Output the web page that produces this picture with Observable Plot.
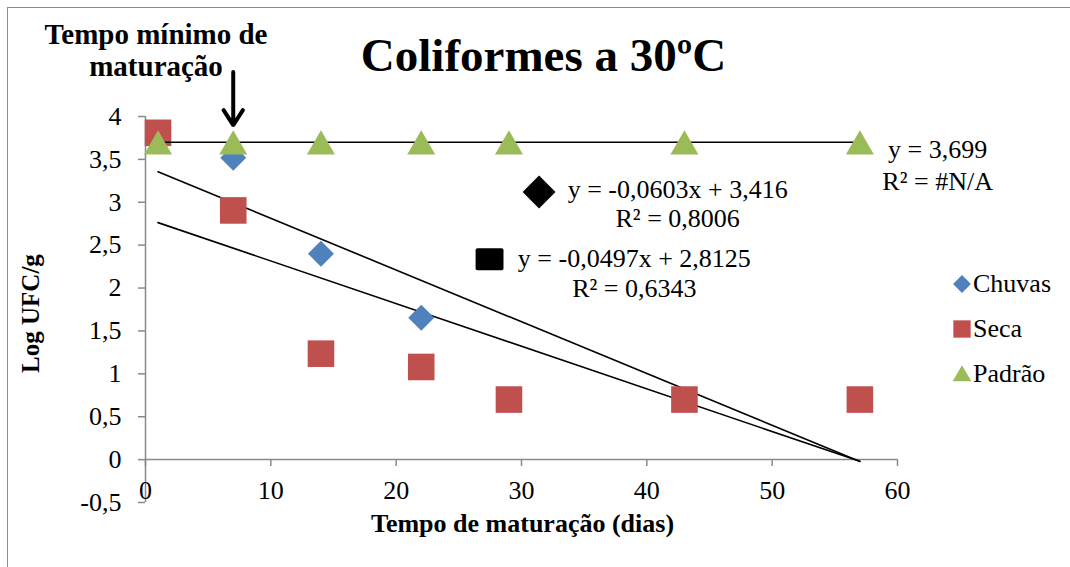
<!DOCTYPE html>
<html><head><meta charset="utf-8">
<script src="https://cdn.jsdelivr.net/npm/d3@7"></script>
<script src="https://cdn.jsdelivr.net/npm/@observablehq/plot@0.6"></script>
<style>
html,body{margin:0;padding:0;background:#fff;}
#wrap{position:relative;width:1070px;height:567px;overflow:hidden;font-family:"Liberation Serif","Times New Roman",serif;}
#frame{position:absolute;left:7px;top:7px;width:1100px;height:600px;border-left:1.5px solid #8c8c8c;border-top:1.5px solid #8c8c8c;}
#chart{position:absolute;left:0;top:0;}
#legend{position:absolute;left:952px;top:261px;font-size:26px;color:#000;}
.row{display:flex;align-items:center;height:45px;}
.row svg{width:20px;height:20px;margin-right:1px;overflow:visible}
</style></head><body><div id="wrap"><div id="frame"></div><div id="chart"></div><div id="legend"></div></div>
<script>
// ---- data ----
const days = [1, 7, 14, 22, 29, 43, 57];
const chuvas = [3.8, 3.52, 2.4, 1.655, 0.7, 0.7, 0.7];
const seca = [3.81, 2.905, 1.235, 1.08, 0.7, 0.7, 0.7];
const padrao = [3.699, 3.699, 3.699, 3.699, 3.699, 3.699, 3.699];
const seriesNames = ["Chuvas", "Seca", "Padrão"];
const seriesColors = ["#4F81BD", "#C0504D", "#9BBB59"];
const xTicks = [0, 10, 20, 30, 40, 50, 60];
const yTicks = [-0.5, 0, 0.5, 1, 1.5, 2, 2.5, 3, 3.5, 4];
// trendlines as printed on the chart: slope, intercept
const trendChuvas = [-0.0603, 3.416];
const trendSeca = [-0.0497, 2.8125];
const trendPadrao = [0, 3.699];
const eqChuvas = ["y = -0,0603x + 3,416", "R² = 0,8006"];
const eqSeca = ["y = -0,0497x + 2,8125", "R² = 0,6343"];
const eqPadrao = ["y = 3,699", "R² = #N/A"];
const title = "Coliformes a 30ºC";
const xLabel = "Tempo de maturação (dias)";
const yLabel = "Log UFC/g";
const noteLines = ["Tempo mínimo de", "maturação"];
const noteDay = 7;

// ---- tables ----
const toRows = (vals) => days.map((d, i) => ({x: d, y: vals[i]}));
const trendRows = ([m, b]) => [days[0], days[days.length - 1]].map(x => ({x, y: m * x + b}));
const fmt = d => String(d).replace(".", ",");
const gray = "#898989";
const font = "Liberation Serif, Times New Roman, serif";

const rectSymbol = {
  draw(context, size) {
    const h = Math.sqrt(size) / 2, w = h * 1.27, r = 2;
    context.moveTo(-w + r, -h); context.lineTo(w - r, -h); context.quadraticCurveTo(w, -h, w, -h + r);
    context.lineTo(w, h - r); context.quadraticCurveTo(w, h, w - r, h);
    context.lineTo(-w + r, h); context.quadraticCurveTo(-w, h, -w, h - r);
    context.lineTo(-w, -h + r); context.quadraticCurveTo(-w, -h, -w + r, -h); context.closePath();
  }
};

const chart = Plot.plot({
  width: 1070, height: 567,
  marginLeft: 145, marginRight: 173, marginTop: 116, marginBottom: 65,
  style: {fontFamily: font, background: "transparent", color: "black", overflow: "visible"},
  x: {domain: [0, 60], axis: null},
  y: {domain: [-0.5, 4], axis: null},
  marks: [
    // axes
    Plot.ruleX([0], {stroke: gray, strokeWidth: 1.5}),
    Plot.ruleY([0], {stroke: gray, strokeWidth: 1.5}),
    Plot.ruleX(xTicks, {x: d => d, y1: 0, y2: 0, insetBottom: -7, stroke: gray, strokeWidth: 1.5}),
    Plot.ruleY(yTicks, {y: d => d, x1: 0, x2: 0, insetLeft: -7, stroke: gray, strokeWidth: 1.5}),
    Plot.text(yTicks, {x: 0, y: d => d, text: fmt, textAnchor: "end", dx: -24, fontSize: 26, fill: "black"}),
    Plot.text(xTicks, {x: d => d, y: 0, text: fmt, dy: 31, fontSize: 26, fill: "black"}),
    Plot.text([xLabel], {frameAnchor: "bottom", lineAnchor: "middle", textAnchor: "middle", dy: 21, dx: 1, fontSize: 26, fontWeight: "bold", fill: "black"}),
    Plot.text([yLabel], {frameAnchor: "left", lineAnchor: "middle", textAnchor: "middle", dx: -115, dy: 4, rotate: -90, fontSize: 25, fontWeight: "bold", fill: "black"}),
    Plot.text([title], {frameAnchor: "top", lineAnchor: "middle", textAnchor: "middle", dx: 22, dy: -61, fontSize: 47, fontWeight: "bold", fill: "black"}),
    // trendlines
    Plot.line(trendRows(trendChuvas), {x: "x", y: "y", stroke: "black", strokeWidth: 1.6}),
    Plot.line(trendRows(trendSeca), {x: "x", y: "y", stroke: "black", strokeWidth: 1.6}),
    // series
    Plot.dot(toRows(chuvas), {x: "x", y: "y", symbol: "diamond2", r: 11.7, fill: seriesColors[0], ariaLabel: "series"}),
    Plot.dot(toRows(seca), {x: "x", y: "y", symbol: "square", r: 15, fill: seriesColors[1], ariaLabel: "series"}),
    Plot.line(trendRows(trendPadrao), {x: "x", y: "y", stroke: "black", strokeWidth: 1.6}),
    Plot.dot(toRows(padrao), {x: "x", y: "y", symbol: "triangle", r: 10.4, dy: 4, fill: seriesColors[2], ariaLabel: "series"}),
    // trendline labels
    Plot.dot([{x: 31.4, y: 3.12}], {x: "x", y: "y", symbol: "diamond2", r: 14.8, fill: "black"}),
    Plot.dot([{x: 27.45, y: 2.335}], {x: "x", y: "y", symbol: rectSymbol, r: 12.4, fill: "black"}),
    Plot.text(eqChuvas, {x: 42.46, y: (d, i) => [3.145, 2.81][i], text: d => d, fontSize: 26, fill: "black"}),
    Plot.text(eqSeca, {x: 39.0, y: (d, i) => [2.345, 1.995][i], text: d => d, fontSize: 26, fill: "black"}),
    Plot.text(eqPadrao, {x: 63.2, y: (d, i) => [3.61, 3.24][i], text: d => d, fontSize: 26, fill: "black"}),
    // note + arrow
    Plot.text(noteLines, {x: 0.84, y: (d, i) => [4.955, 4.575][i], text: d => d, fontSize: 29, fontWeight: "bold", fill: "black"}),
    Plot.arrow([{x: noteDay, y1: 4.52, y2: 3.9}], {x: "x", y1: "y1", y2: "y2", stroke: "black", strokeWidth: 4, headLength: 20, headAngle: 66})
  ]
});
document.getElementById("chart").appendChild(chart);
chart.querySelectorAll('g[aria-label="series"]').forEach(g => {
  g.style.filter = "drop-shadow(0px 3px 2px rgba(0,0,0,0.35))";
});

// legend
const legendSymbols = [d3.symbolDiamond2, d3.symbolSquare, d3.symbolTriangle];
const legendSizes = [205, 300, 150];
const legend = d3.select("#legend");
seriesNames.forEach((name, i) => {
  const row = legend.append("div").attr("class", "row");
  const svg = row.append("svg").attr("viewBox", "-10 -10 20 20");
  svg.append("path").attr("d", d3.symbol(legendSymbols[i], legendSizes[i])())
    .attr("transform", i === 2 ? "translate(0,2)" : null)
    .attr("fill", seriesColors[i]);
  row.append("span").text(name);
});
</script>
</body></html>
